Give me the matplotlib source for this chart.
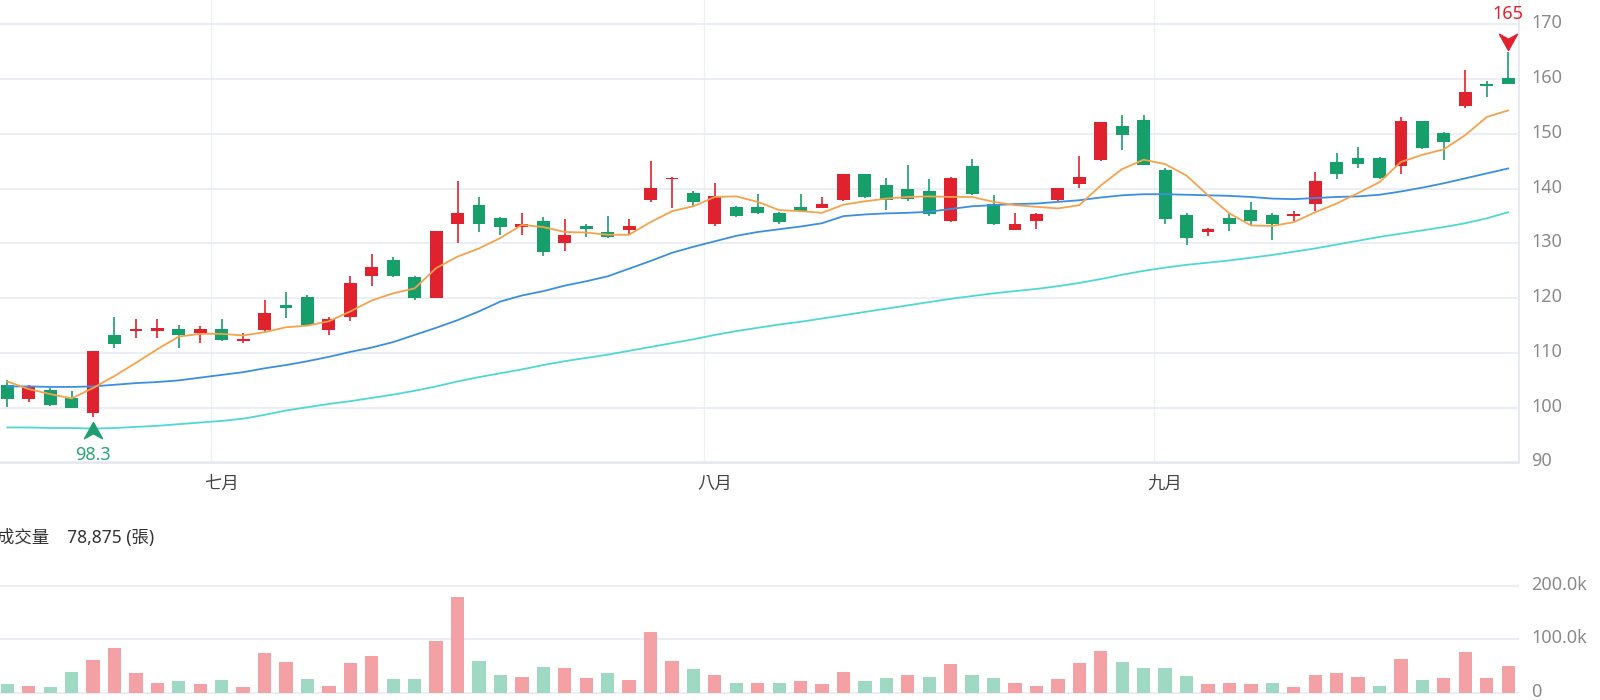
import matplotlib
matplotlib.use("Agg")
import matplotlib.pyplot as plt
import numpy as np
from matplotlib.path import Path
from matplotlib.transforms import offset_copy, ScaledTranslation

# daily candles, 71 sessions (June tail .. September)
opens = [104.1, 101.6, 103.2, 101.8, 99.0, 113.3, 114.1, 114.1, 114.3, 113.6,
         114.3, 112.1, 114.2, 118.7, 120.3, 114.2, 116.6, 124.1, 126.9, 123.8,
         120.0, 133.5, 137.1, 134.7, 133.0, 134.1, 130.0, 133.2, 132.1, 132.5,
         137.9, 141.8, 139.2, 133.5, 136.7, 136.7, 135.6, 136.7, 136.5, 137.9,
         142.6, 140.6, 140.0, 139.6, 134.1, 144.1, 137.2, 132.5, 134.1, 137.9,
         140.9, 145.2, 151.5, 152.5, 143.5, 135.2, 132.1, 134.7, 136.1, 135.2,
         135.1, 137.2, 144.8, 145.7, 145.7, 144.1, 152.3, 150.2, 155.1, 159.2,
         160.2]
highs = [105.0, 104.1, 103.6, 103.0, 110.4, 116.6, 116.2, 116.2, 115.1, 115.0,
         116.2, 113.6, 119.7, 121.2, 120.6, 116.6, 124.0, 128.1, 127.6, 124.1,
         132.2, 141.5, 138.5, 134.9, 135.6, 134.8, 134.5, 133.6, 135.0, 134.5,
         145.0, 142.1, 139.5, 141.0, 136.8, 139.0, 135.7, 139.0, 138.5, 142.7,
         142.7, 141.9, 144.4, 141.8, 142.2, 145.4, 138.9, 135.6, 135.6, 140.2,
         145.9, 152.2, 153.5, 153.5, 143.7, 135.5, 132.8, 135.3, 137.6, 135.6,
         135.9, 143.0, 146.6, 147.6, 145.8, 153.1, 152.4, 150.3, 161.6, 159.6,
         165.0]
lows = [100.2, 101.0, 100.4, 99.9, 98.3, 110.9, 112.8, 112.8, 110.9, 111.9,
        112.2, 111.8, 113.9, 116.3, 115.0, 113.3, 115.9, 122.3, 123.8, 119.7,
        120.0, 130.1, 132.1, 131.6, 131.6, 127.7, 128.7, 131.2, 131.0, 131.5,
        137.6, 136.5, 136.7, 133.2, 134.9, 135.4, 133.6, 135.7, 136.4, 137.8,
        138.3, 136.1, 137.8, 135.1, 134.0, 138.8, 133.4, 132.4, 132.7, 137.8,
        140.1, 145.0, 147.0, 144.3, 133.5, 129.8, 131.3, 132.2, 133.3, 130.6,
        134.1, 136.0, 141.7, 143.7, 141.7, 142.6, 147.2, 145.2, 154.7, 156.8,
        159.1]
closes = [101.6, 103.7, 100.5, 100.0, 110.3, 111.6, 114.4, 114.5, 113.2, 114.3,
          112.3, 112.6, 117.3, 118.3, 115.1, 116.2, 122.7, 125.7, 124.1, 120.0,
          132.2, 135.6, 133.5, 133.0, 133.6, 128.5, 131.6, 132.6, 131.1, 133.2,
          140.1, 142.0, 137.5, 138.7, 135.0, 135.5, 133.9, 135.9, 137.2, 142.6,
          138.4, 138.0, 138.1, 135.3, 142.0, 139.0, 133.5, 133.6, 135.3, 140.1,
          142.1, 152.1, 149.8, 144.4, 134.5, 131.0, 132.7, 133.5, 134.1, 133.5,
          135.3, 141.5, 142.6, 144.6, 142.0, 152.3, 147.5, 148.6, 157.7, 158.8,
          159.2]

# moving averages as drawn on the chart
ma5 = [104.8, 103.4, 102.5, 101.7, 103.6, 105.8, 108.2, 110.7, 113.0, 113.5,
       113.5, 113.2, 113.8, 114.7, 115.0, 115.8, 117.6, 119.6, 120.9, 121.8,
       125.5, 127.6, 129.1, 131.0, 133.4, 133.0, 132.1, 132.0, 131.6, 131.6,
       133.9, 135.9, 136.8, 138.5, 138.6, 137.6, 136.1, 135.9, 135.6, 137.1,
       137.7, 138.2, 138.5, 138.6, 138.5, 138.5, 137.6, 137.0, 136.7, 136.4,
       137.0, 140.6, 143.6, 145.3, 144.5, 142.4, 138.8, 135.5, 133.3, 133.2,
       133.9, 135.7, 137.3, 139.2, 141.2, 144.9, 146.2, 147.2, 149.8, 153.1,
       154.3]
ma20 = [103.9, 103.9, 103.8, 103.8, 103.9, 104.2, 104.5, 104.7, 105.0, 105.5,
        106.0, 106.5, 107.2, 107.8, 108.5, 109.3, 110.2, 111.0, 112.0, 113.3,
        114.6, 116.0, 117.6, 119.4, 120.5, 121.3, 122.3, 123.1, 124.0, 125.4,
        126.8, 128.3, 129.4, 130.4, 131.4, 132.1, 132.6, 133.1, 133.7, 135.0,
        135.3, 135.5, 135.6, 135.8, 136.3, 136.8, 137.0, 137.2, 137.3, 137.6,
        137.9, 138.4, 138.8, 139.0, 139.0, 138.9, 138.8, 138.7, 138.5, 138.2,
        138.1, 138.3, 138.5, 138.6, 138.9, 139.5, 140.2, 141.0, 141.9, 142.8,
        143.7]
ma60 = [96.4, 96.4, 96.3, 96.3, 96.2, 96.3, 96.5, 96.7, 97.0, 97.3,
        97.6, 98.0, 98.7, 99.5, 100.1, 100.7, 101.2, 101.8, 102.4, 103.1,
        103.9, 104.8, 105.6, 106.3, 107.0, 107.8, 108.5, 109.1, 109.7, 110.4,
        111.1, 111.8, 112.5, 113.3, 114.0, 114.6, 115.2, 115.7, 116.3, 116.9,
        117.5, 118.1, 118.7, 119.3, 119.9, 120.4, 120.9, 121.3, 121.7, 122.2,
        122.8, 123.5, 124.3, 125.0, 125.6, 126.1, 126.5, 126.9, 127.4, 127.9,
        128.5, 129.1, 129.8, 130.5, 131.2, 131.8, 132.4, 133.0, 133.7, 134.6,
        135.7]

# volume in thousands of lots
volume_k = [16, 12.5, 10, 39, 61, 84, 37.5, 19, 22, 16,
            24, 10, 75, 57, 26, 12.5, 56, 69, 25, 25,
            96, 179, 60, 34, 29, 47.5, 47, 27, 36, 24,
            114, 59, 45, 34, 19, 19, 18, 21, 16, 39,
            22, 28, 32.5, 30, 54, 33, 28, 19, 13, 26,
            56, 79, 57, 46, 46, 31, 16, 19, 16, 18,
            10, 34, 37, 30, 13, 64, 23, 28, 77, 28,
            50]

month_labels = ['七月', '八月', '九月']
month_start = [10, 33, 54]
price_ticks = [90, 100, 110, 120, 130, 140, 150, 160, 170]
vol_ticks = [0, 100000, 200000]
vol_tick_labels = ['0', '100.0k', '200.0k']
volume_title = '成交量    78,875 (張)'

RED = '#e0212e'
GREEN = '#169f6b'
RED_L = '#f4a1a6'
GREEN_L = '#9fd9c3'
GRID = '#e7e9f2'

plt.rcParams['font.family'] = ['Noto Sans', 'Noto Sans CJK TC', 'DejaVu Sans']

x = np.arange(len(closes))
opens = np.array(opens)
closes = np.array(closes)
volume = np.array(volume_k) * 1000

fig = plt.figure(figsize=(16, 7), dpi=100)
W = 1519.3 / 1600
ax = fig.add_axes([0, 237.5 / 700, W, 462.5 / 700])
av = fig.add_axes([0, 5.7 / 700, W, 111.5 / 700])

# candles
up = closes >= opens
ccol = [RED if u else GREEN for u in up]
ax.vlines(x, lows, highs, colors=ccol, lw=1.2, zorder=2)
body_lo = np.minimum(opens, closes)
body_h = np.maximum(np.abs(closes - opens), 0.18)
ax.bar(x, body_h, bottom=body_lo, width=0.6, color=ccol, zorder=3)

ax.plot(x, ma60, color='#4fd8d2', lw=1.3, zorder=4)
ax.plot(x, ma20, color='#3b8fe2', lw=1.3, zorder=4)
ax.plot(x, ma5, color='#f5a24c', lw=1.3, zorder=4)

# max / min markers
arrow = Path([(0, 1), (1, -0.8), (0, -0.25), (-1, -0.8), (0, 1)],
             [Path.MOVETO, Path.LINETO, Path.LINETO, Path.LINETO, Path.CLOSEPOLY])
arrow_dn = Path(arrow.vertices * [1, -1], arrow.codes)
imax = int(np.argmax(highs))
imin = int(np.argmin(lows))
ax.plot(x[imax], highs[imax], marker=arrow_dn, ms=13, color=RED, ls='none', clip_on=False,
        transform=offset_copy(ax.transData, fig=fig, y=11, units='dots'), zorder=5)
ax.text(x[imax], highs[imax], f'{highs[imax]:g}', color=RED, fontsize=13, ha='center', va='center',
        transform=offset_copy(ax.transData, fig=fig, y=38, units='dots'))
ax.plot(x[imin], lows[imin], marker=arrow, ms=13, color='#1f9e6e', ls='none', clip_on=False,
        transform=offset_copy(ax.transData, fig=fig, y=-14, units='dots'), zorder=5)
ax.text(x[imin], lows[imin], f'{lows[imin]:g}', color='#2aa577', fontsize=13, ha='center', va='center',
        transform=offset_copy(ax.transData, fig=fig, y=-38, units='dots'))

ax.set_xlim(-0.34, 70.52)
ax.set_ylim(90, 174.47)
ax.set_yticks(price_ticks)
ax.yaxis.tick_right()
ax.tick_params(axis='y', length=0, pad=8.4, labelcolor='#8a8a8a', labelsize=13)
ax.set_xticks(month_start)
ax.set_xticklabels(month_labels)
ax.tick_params(axis='x', length=0, pad=9, labelcolor='#444444', labelsize=12.5)
ax.grid(axis='y', color=GRID, lw=1.1, zorder=0)
for m in month_start:
    ax.axvline(m - 0.5, color='#eff0f5', lw=1.0, zorder=0)
for s in ['top', 'left']:
    ax.spines[s].set_visible(False)
for s in ['bottom', 'right']:
    ax.spines[s].set_color('#e2e4ef')
    ax.spines[s].set_linewidth(1.1)

# volume
prev = np.concatenate([[np.inf], closes[:-1]])
vcol = [RED_L if c >= p else GREEN_L for c, p in zip(closes, prev)]
av.bar(x, volume, width=0.62, color=vcol, zorder=2)
av.set_xlim(-0.34, 70.52)
av.set_ylim(-3000, 206000)
av.set_yticks(vol_ticks)
av.set_yticklabels(vol_tick_labels)
av.yaxis.tick_right()
av.tick_params(axis='y', length=0, pad=8.4, labelcolor='#8a8a8a', labelsize=13)
av.set_xticks([])
av.grid(axis='y', color=GRID, lw=1.1, zorder=0)
for s in av.spines.values():
    s.set_visible(False)

# labels sit a few pixels above their grid lines
lift = ScaledTranslation(0, 3 / 100, fig.dpi_scale_trans)
for a in [ax, av]:
    for lab in a.get_yticklabels():
        lab.set_transform(lab.get_transform() + lift)

fig.text(-0.002, 1 - 537.5 / 700, volume_title, color='#333333', fontsize=12.5, ha='left', va='center')

fig.savefig('out.png', dpi=100, facecolor='white')
